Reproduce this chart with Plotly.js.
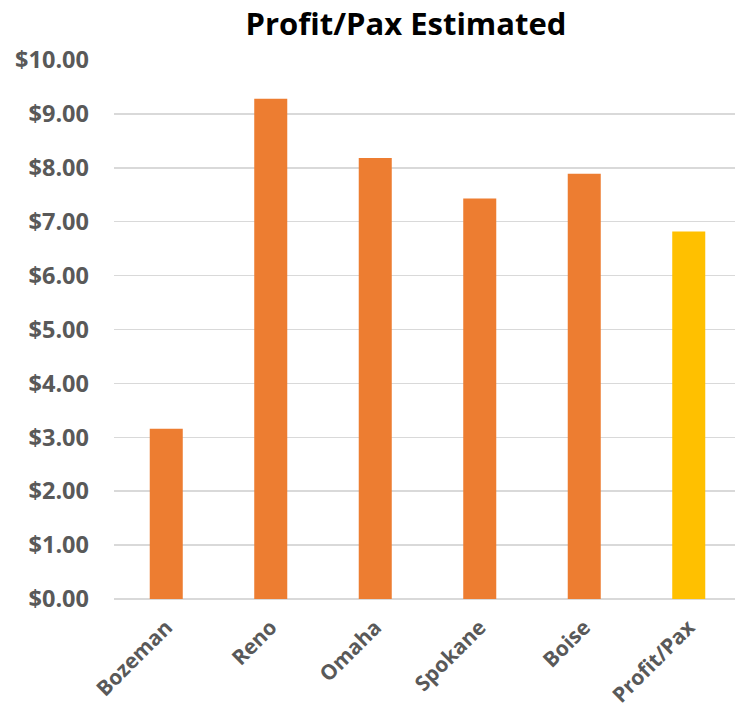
<!DOCTYPE html>
<html>
<head>
<meta charset="utf-8">
<script src="https://cdn.plot.ly/plotly-3.0.1.min.js"></script>
<style>
html,body{margin:0;padding:0;overflow:hidden;background:#fff;}
#chart{width:741px;height:714px;}
</style>
</head>
<body>
<div id="chart"></div>
<script>
const categories = ["Bozeman", "Reno", "Omaha", "Spokane", "Boise", "Profit/Pax"];
const profitPerPax = [3.16, 9.28, 8.18, 7.43, 7.89, 6.82];
const barColors = ["#ED7D31", "#ED7D31", "#ED7D31", "#ED7D31", "#ED7D31", "#FFC000"];
const chartTitle = "Profit/Pax Estimated";

const trace = {
  type: "bar",
  x: categories,
  y: profitPerPax,
  marker: {color: barColors, line: {width: 0}},
  hoverinfo: "skip"
};

const layout = {
  width: 741,
  height: 714,
  margin: {l: 114, r: 0, t: 59.5, b: 115, pad: 0},
  paper_bgcolor: "#ffffff",
  plot_bgcolor: "#ffffff",
  showlegend: false,
  bargap: 0.684,
  title: {
    text: chartTitle,
    font: {family: "Open Sans, sans-serif", size: 31, color: "#000000", weight: 700},
    x: 406 / 741,
    xanchor: "center",
    xref: "container",
    y: 1 - 24 / 714,
    yanchor: "middle",
    yref: "container"
  },
  xaxis: {
    type: "category",
    range: [-0.5, 5.5],
    tickangle: -45,
    tickfont: {family: "Open Sans, sans-serif", size: 21, color: "#595959", weight: 700},
    showgrid: false,
    showline: false,
    zeroline: false,
    ticks: "",
    ticklabelstandoff: 11
  },
  yaxis: {
    range: [0, 10],
    dtick: 1,
    tick0: 0,
    tickprefix: "$",
    tickformat: ".2f",
    tickfont: {family: "Open Sans, sans-serif", size: 23.5, color: "#595959", weight: 700},
    showgrid: true,
    gridcolor: "#D9D9D9",
    gridwidth: 1.5,
    zeroline: true,
    zerolinecolor: "#D9D9D9",
    zerolinewidth: 1.5,
    showline: false,
    ticks: "",
    ticklabelstandoff: 24
  }
};

Plotly.newPlot("chart", [trace], layout, {displayModeBar: false, staticPlot: true});
</script>
</body>
</html>
